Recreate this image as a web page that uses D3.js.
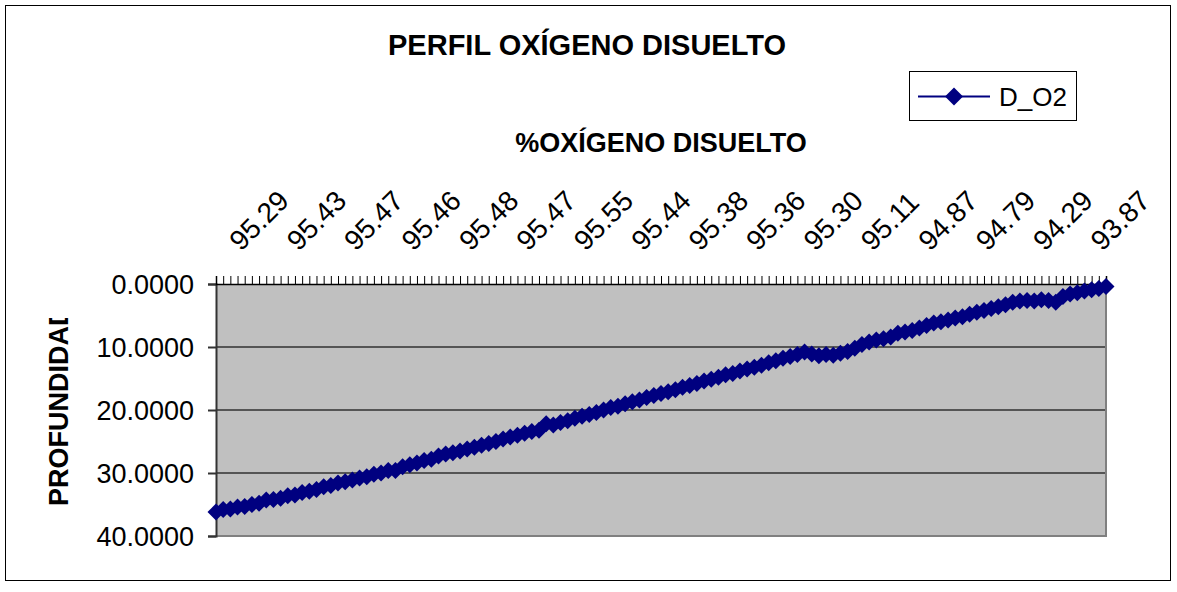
<!DOCTYPE html>
<html>
<head>
<meta charset="utf-8">
<script src="https://cdn.jsdelivr.net/npm/d3@7/dist/d3.min.js"></script>
<style>
  html, body { margin: 0; padding: 0; background: #fff; }
  svg { display: block; font-family: "Liberation Sans", Arial, sans-serif; }
</style>
</head>
<body>
<svg id="chart" width="1177" height="592"></svg>
<script>
// ---- data ----
const seriesName = "D_O2";
const chartTitle = "PERFIL OXÍGENO DISUELTO";
const xTitle = "%OXÍGENO DISUELTO";
const yTitle = "PROFUNDIDAD";
// O2 labels shown on the top category axis (one every 8 categories)
const o2TickLabels = ["95.29","95.43","95.47","95.46","95.48","95.47","95.55","95.44",
                      "95.38","95.36","95.30","95.11","94.87","94.79","94.29","93.87"];
const labelEvery = 8;
// depth (m) for each of the 125 samples, left to right
const depth = [
  36.2, 35.8, 35.7, 35.4, 35.3, 35.0, 34.8, 34.3, 34.2, 34.0,
  33.6, 33.5, 33.1, 32.9, 32.6, 32.2, 32.0, 31.6, 31.4, 31.1,
  30.8, 30.6, 30.2, 30.0, 29.6, 29.6, 29.0, 28.7, 28.4, 28.0,
  27.8, 27.3, 27.0, 26.8, 26.5, 26.2, 25.9, 25.6, 25.3, 25.0,
  24.6, 24.3, 24.0, 23.7, 23.4, 23.2, 22.2, 22.4, 22.0, 21.7,
  21.3, 21.0, 20.7, 20.4, 20.0, 19.6, 19.4, 19.0, 18.7, 18.4,
  18.0, 17.7, 17.4, 17.1, 16.8, 16.4, 16.1, 15.8, 15.4, 15.1,
  14.8, 14.4, 14.2, 13.8, 13.5, 13.2, 12.9, 12.5, 12.2, 11.8,
  11.5, 11.2, 10.8, 11.1, 11.4, 11.2, 11.3, 11.0, 10.7, 10.2,
  9.6, 9.2, 8.9, 8.7, 8.4, 7.8, 7.6, 7.4, 7.0, 6.6,
  6.2, 6.0, 5.7, 5.4, 5.2, 4.8, 4.5, 4.2, 3.9, 3.6,
  3.3, 2.9, 2.7, 2.6, 2.7, 2.5, 2.6, 2.9, 2.0, 1.6,
  1.4, 1.1, 0.9, 0.7, 0.4
];
const yTickValues = [0, 10, 20, 30, 40];

// ---- layout ----
const svg = d3.select("#chart");
const plot = { left: 216, right: 1106, top: 284, bottom: 536 };
const navy = "#000080";

svg.append("rect").attr("x", 5.5).attr("y", 5.5).attr("width", 1165).attr("height", 575)
  .attr("fill", "#fff").attr("stroke", "#000").attr("stroke-width", 1);

const idx = depth.map((d, i) => i);
const x = d3.scalePoint().domain(idx).range([plot.left, plot.right]);
const y = d3.scaleLinear().domain([0, 40]).range([plot.top, plot.bottom]);

// plot area
svg.append("rect").attr("x", plot.left).attr("y", plot.top)
  .attr("width", plot.right - plot.left).attr("height", plot.bottom - plot.top)
  .attr("fill", "#C0C0C0");

// gridlines
svg.append("g").selectAll("line").data(yTickValues.filter(v => v > 0 && v < 40)).join("line")
  .attr("x1", plot.left).attr("x2", plot.right)
  .attr("y1", d => y(d)).attr("y2", d => y(d))
  .attr("stroke", "#555").attr("stroke-width", 2);

// right and bottom border
svg.append("path")
  .attr("d", `M${plot.right},${plot.top} V${plot.bottom} H${plot.left}`)
  .attr("fill", "none").attr("stroke", "#808080").attr("stroke-width", 2);

// left value axis
const yAxis = d3.axisLeft(y).tickValues(yTickValues).tickFormat(d3.format(".4f")).tickSize(8).tickPadding(14);
const gy = svg.append("g").attr("transform", `translate(${plot.left},0)`).call(yAxis);
gy.select(".domain").attr("stroke", "#333").attr("stroke-width", 2);
gy.selectAll(".tick line").attr("stroke", "#333").attr("stroke-width", 2);
gy.selectAll(".tick text").attr("font-size", 27).attr("fill", "#000")
  .attr("font-family", "Liberation Sans, Arial, sans-serif").attr("dy", "0.35em");

// top category axis
const xAxis = d3.axisTop(x).tickSize(8).tickFormat(() => "");
const gx = svg.append("g").attr("transform", `translate(0,${plot.top})`).call(xAxis);
gx.select(".domain").attr("stroke", "#000").attr("stroke-width", 1.5);
gx.selectAll(".tick line").attr("stroke", "#000").attr("stroke-width", 1);

// rotated category labels
svg.append("g").selectAll("text").data(o2TickLabels).join("text")
  .attr("transform", (d, k) => `translate(${x(k * labelEvery) + 25},252) rotate(-45)`)
  .attr("font-size", 28).attr("fill", "#000")
  .text(d => d);

// series line
svg.append("path").datum(depth)
  .attr("d", d3.line().x((d, i) => x(i)).y(d => y(d)))
  .attr("fill", "none").attr("stroke", navy).attr("stroke-width", 2);

// diamond markers
const diamond = r => `M0,${-r} L${r},0 L0,${r} L${-r},0Z`;
svg.append("g").selectAll("path").data(depth).join("path")
  .attr("transform", (d, i) => `translate(${x(i)},${y(d)})`)
  .attr("d", diamond(8.5)).attr("fill", navy);

// titles
svg.append("text").attr("x", 587).attr("y", 55).attr("text-anchor", "middle")
  .attr("font-size", 29).attr("font-weight", "bold").text(chartTitle);
svg.append("text").attr("x", 661).attr("y", 152).attr("text-anchor", "middle")
  .attr("font-size", 27).attr("font-weight", "bold").text(xTitle);

// y title, clipped at top like the reference
svg.append("clipPath").attr("id", "ytclip").append("rect")
  .attr("x", 0).attr("y", 318).attr("width", 120).attr("height", 250);
svg.append("g").attr("clip-path", "url(#ytclip)")
  .append("text")
  .attr("transform", "translate(68,506) rotate(-90)")
  .attr("font-size", 27).attr("font-weight", "bold").text(yTitle);

// legend
const lg = svg.append("g");
lg.append("rect").attr("x", 909.5).attr("y", 71.5).attr("width", 167).attr("height", 49)
  .attr("fill", "#fff").attr("stroke", "#000").attr("stroke-width", 1);
lg.append("line").attr("x1", 918).attr("x2", 990).attr("y1", 96.5).attr("y2", 96.5)
  .attr("stroke", navy).attr("stroke-width", 2);
lg.append("path").attr("transform", "translate(954,96.5)").attr("d", diamond(9)).attr("fill", navy);
lg.append("text").attr("x", 999).attr("y", 106).attr("font-size", 26).text(seriesName);
</script>
</body>
</html>
